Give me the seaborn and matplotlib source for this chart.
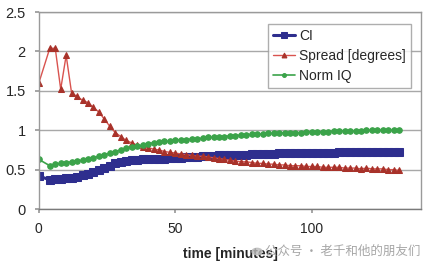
"""Recreate the CI / spread / Norm IQ time-series chart."""

import matplotlib.pyplot as plt
import pandas as pd
import seaborn as sns
from matplotlib.patches import Circle

TIME_MIN = [
    0, 4, 6, 8, 10, 12, 14, 16, 18, 20, 22, 24, 26, 28, 30, 32, 34, 36, 38, 40,
    42, 44, 46, 48, 50, 52, 54, 56, 58, 60, 62, 64, 66, 68, 70, 72, 74, 76, 78, 80,
    82, 84, 86, 88, 90, 92, 94, 96, 98, 100, 102, 104, 106, 108, 110, 112, 114, 116, 118, 120,
    122, 124, 126, 128, 130, 132,
]

CI = [
    0.42, 0.37, 0.38, 0.38, 0.39, 0.40, 0.41, 0.43, 0.45, 0.47, 0.50, 0.52, 0.55, 0.58, 0.60, 0.61, 0.62, 0.62, 0.63, 0.63,
    0.64, 0.64, 0.64, 0.65, 0.65, 0.65, 0.66, 0.66, 0.66, 0.67, 0.67, 0.67, 0.68, 0.68, 0.68, 0.69, 0.69, 0.69, 0.70, 0.70,
    0.70, 0.70, 0.70, 0.71, 0.71, 0.71, 0.71, 0.71, 0.71, 0.71, 0.71, 0.71, 0.71, 0.71, 0.72, 0.72, 0.72, 0.72, 0.72, 0.72,
    0.72, 0.72, 0.72, 0.72, 0.72, 0.72,
]

SPREAD = [
    1.60, 2.04, 2.04, 1.52, 1.95, 1.47, 1.43, 1.38, 1.35, 1.29, 1.23, 1.14, 1.05, 0.97, 0.92, 0.87, 0.84, 0.81, 0.79, 0.78,
    0.76, 0.75, 0.73, 0.72, 0.71, 0.70, 0.69, 0.68, 0.67, 0.67, 0.66, 0.65, 0.64, 0.63, 0.62, 0.61, 0.60, 0.60, 0.59, 0.58,
    0.58, 0.57, 0.57, 0.56, 0.56, 0.55, 0.55, 0.55, 0.54, 0.54, 0.54, 0.53, 0.53, 0.53, 0.53, 0.52, 0.52, 0.52, 0.51, 0.52,
    0.51, 0.51, 0.51, 0.50, 0.50, 0.49,
]

NORM_IQ = [
    0.63, 0.55, 0.57, 0.58, 0.59, 0.60, 0.61, 0.62, 0.63, 0.65, 0.67, 0.69, 0.71, 0.73, 0.75, 0.77, 0.79, 0.80, 0.81, 0.83,
    0.84, 0.85, 0.86, 0.86, 0.87, 0.88, 0.88, 0.89, 0.89, 0.90, 0.91, 0.91, 0.92, 0.92, 0.93, 0.93, 0.94, 0.94, 0.95, 0.95,
    0.95, 0.96, 0.96, 0.96, 0.97, 0.97, 0.97, 0.97, 0.98, 0.98, 0.98, 0.98, 0.98, 0.99, 0.99, 0.99, 0.99, 0.99, 0.99, 1.00,
    1.00, 1.00, 1.00, 1.00, 1.00, 1.00,
]

SERIES = [
    ("CI", CI, "#2E2E8E", "#2E2E8E", "s", 6.0, 2.2),
    ("Spread [degrees]", SPREAD, "#D9534F", "#A8322A", "^", 5.0, 1.0),
    ("Norm IQ", NORM_IQ, "#3BA34A", "#3BA34A", "o", 4.0, 1.2),
]

sns.set_theme(
    style="whitegrid",
    rc={
        "axes.edgecolor": "#9A9A9A",
        "grid.color": "#A8A8A8",
        "grid.linewidth": 1.0,
        "axes.linewidth": 1.0,
    },
)
plt.rcParams["font.family"] = ["Liberation Sans", "DejaVu Sans"]

fig = plt.figure(figsize=(4.27, 2.67), dpi=100)
ax = fig.add_axes([0.091, 0.217, 0.895, 0.738])

for name, values, line_color, marker_color, marker, msize, lw in SERIES:
    df = pd.DataFrame({"time": TIME_MIN, "value": values})
    sns.lineplot(
        data=df,
        x="time",
        y="value",
        color=line_color,
        marker=marker,
        markersize=msize,
        markerfacecolor=marker_color,
        markeredgecolor=marker_color,
        linewidth=lw,
        label=name,
        ax=ax,
    )

ax.set_xlim(0, 140)
ax.set_ylim(0, 2.5)
ax.set_xticks([0, 50, 100])
ax.set_yticks([0, 0.5, 1, 1.5, 2, 2.5])
ax.set_yticklabels(["0", "0.5", "1", "1.5", "2", "2.5"])
ax.grid(axis="x", visible=False)
ax.tick_params(axis="x", length=3, pad=6.5, labelsize=10, color="#9A9A9A", direction="out", bottom=True)
ax.tick_params(axis="y", length=3, pad=6.5, labelsize=10.5, color="#9A9A9A", direction="out", left=True)
ax.set_xlabel("time [minutes]", fontsize=10, fontweight="bold", labelpad=8)
ax.set_ylabel("")
ax.spines["bottom"].set_color("#7A7A7A")

leg = ax.legend(
    loc="upper right",
    bbox_to_anchor=(0.974, 0.94),
    borderaxespad=0,
    fontsize=10,
    frameon=True,
    fancybox=False,
    edgecolor="#9A9A9A",
    handlelength=1.6,
    handletextpad=0.3,
    borderpad=0.35,
    labelspacing=0.45,
    markerscale=0.7,
)
leg.get_frame().set_linewidth(1.0)

fig.patches.append(Circle((0.602, 0.058), 0.012, transform=fig.transFigure, color="#BDBDBD", alpha=0.8))
fig.text(0.62, 0.058, "公众号 · 老千和他的朋友们", fontsize=9, color="#A6A6A6",
         family=["Noto Sans CJK SC", "DejaVu Sans"], va="center", ha="left")

fig.savefig("out.png", dpi=100)
